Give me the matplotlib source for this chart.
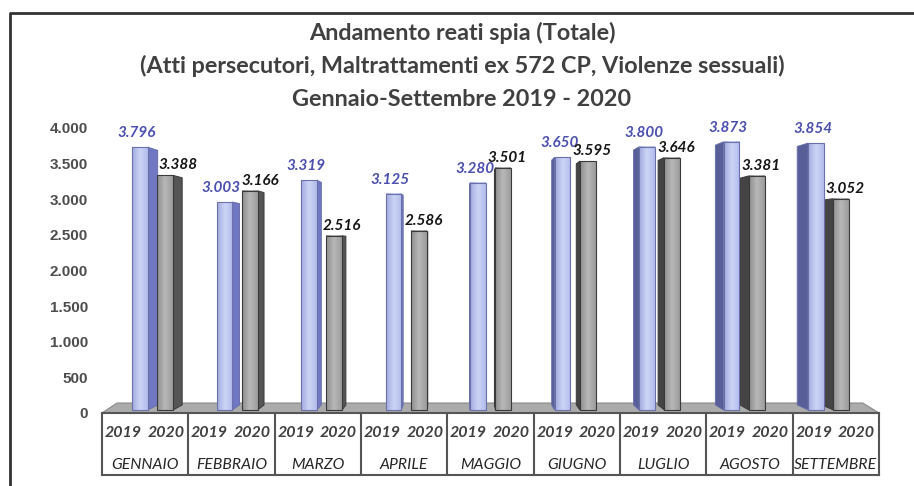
import matplotlib
matplotlib.use("Agg")
import matplotlib.pyplot as plt
import numpy as np
from matplotlib.patches import Polygon, Rectangle
from matplotlib.lines import Line2D
from matplotlib.colors import LinearSegmentedColormap

# ---------------- data ----------------
months = ["GENNAIO", "FEBBRAIO", "MARZO", "APRILE", "MAGGIO",
          "GIUGNO", "LUGLIO", "AGOSTO", "SETTEMBRE"]
years = ["2019", "2020"]
values_2019 = [3796, 3003, 3319, 3125, 3280, 3650, 3800, 3873, 3854]
values_2020 = [3388, 3166, 2516, 2586, 3501, 3595, 3646, 3381, 3052]
y_ticks = [0, 500, 1000, 1500, 2000, 2500, 3000, 3500, 4000]
title_lines = ["Andamento reati spia (Totale)",
               "(Atti persecutori, Maltrattamenti ex 572 CP, Violenze sessuali)",
               "Gennaio-Settembre 2019 - 2020"]

def fmt(v):
    return f"{v:,}".replace(",", ".")

# ---------------- figure ----------------
W, H = 914, 486
fig = plt.figure(figsize=(W / 100, H / 100), dpi=100)
fig.patch.set_facecolor("white")

def px_rect(x0, y0, x1, y1):
    return [x0 / W, 1 - y1 / H, (x1 - x0) / W, (y1 - y0) / H]

FONT = "Lato"

# wall axis with tick labels
ax_wall = fig.add_axes(px_rect(102, 128, 880, 413), zorder=0)
ax_wall.set_ylim(0, 4000)
ax_wall.set_xlim(0, 9)
ax_wall.set_yticks(y_ticks)
ax_wall.set_yticklabels([fmt(t) for t in y_ticks], fontweight="bold",
                        family="Liberation Sans", fontsize=11, color="#4d4d4d")
ax_wall.set_xticks([])
ax_wall.tick_params(axis="y", length=0, pad=10)
for s in ax_wall.spines.values():
    s.set_visible(False)
ax_wall.patch.set_alpha(0)

# bars axis
ax = fig.add_axes(px_rect(102, 133, 880, 410), zorder=1)
ax.axis("off")

# perspective parameters (in category units)
cx, sc = 4.29, 0.9776
a, d, w = 0.257, 0.30, 0.185
vx, vy, k = 4.19, 2310.0, 0.0315
PXU = 86.44  # pixels per category unit

floor = Polygon([(0, -43), (8.99, -43), (8.80, 101), (0.174, 101)],
                closed=True, facecolor="#ababab", edgecolor="#8a8a8a",
                lw=0.8, zorder=1, clip_on=False)
ax.add_patch(floor)

cm19 = LinearSegmentedColormap.from_list("c19", ["#a2aae0", "#ccd5f5", "#b3bcec"])
cm20 = LinearSegmentedColormap.from_list("c20", ["#8e8e8e", "#b8b8b8", "#9c9c9c"])
grad = np.linspace(0, 1, 64).reshape(1, -1)

series = [
    (values_2019, cm19, "#7078c4", "#575e98", "#6a70a8", "#4b4fae", 14),
    (values_2020, cm20, "#555555", "#444444", "#3a3a3a", "#151515", 10),
]

for s, (vals, cmap, side_r, side_l, edge, lab_col, yoff) in enumerate(series):
    for i, v in enumerate(vals):
        x0 = cx + (i + a + s * d - cx) * sc
        x1 = x0 + w * sc
        side_px = 0.0
        if x1 < vx:
            xe, side_col = x1, side_r
        elif x0 > vx:
            xe, side_col = x0, side_l
        else:
            xe = None
        if xe is not None:
            xb = xe + k * (vx - xe)
            side_px = (xb - xe) * PXU
            poly = Polygon([(xe, 0), (xb, k * vy), (xb, v + k * (vy - v)), (xe, v)],
                           closed=True, facecolor=side_col, edgecolor=edge,
                           lw=0.7, zorder=2, clip_on=False)
            ax.add_patch(poly)
        ax.imshow(grad, extent=(x0, x1, 0, v), aspect="auto", cmap=cmap,
                  zorder=3, interpolation="bilinear")
        ax.add_patch(Rectangle((x0, 0), x1 - x0, v, facecolor="none",
                               edgecolor=edge, lw=0.8, zorder=4, clip_on=False))
        if s == 0:
            dx_px = -3
        else:
            dx_px = 4 + max(side_px, 0)
        ax.annotate(fmt(v), xy=((x0 + x1) / 2, v),
                    xytext=(dx_px * 0.72, yoff * 0.72),
                    textcoords="offset points", ha="center", va="center",
                    fontsize=11, fontweight="bold", fontstyle="italic",
                    color=lab_col, family=FONT, zorder=6,
                    annotation_clip=False)

ax.set_xlim(0, 9)
ax.set_ylim(0, 4000)

# table below
ax_t = fig.add_axes(px_rect(102, 413, 879, 475), zorder=2)
ax_t.set_xlim(0, 9)
ax_t.set_ylim(1, 0)
ax_t.set_xticks([])
ax_t.set_yticks([])
for sp in ax_t.spines.values():
    sp.set_color("#555555")
    sp.set_linewidth(1.5)
ax_t.patch.set_alpha(0)
for i in range(1, 9):
    ax_t.axvline(i, color="#555555", lw=1.5)
for i, m in enumerate(months):
    ax_t.text(i + 0.245, 0.32, years[0], ha="center", va="center",
              fontsize=11.5, fontweight="bold", fontstyle="italic",
              color="#404040", family=FONT)
    ax_t.text(i + 0.74, 0.32, years[1], ha="center", va="center",
              fontsize=11.5, fontweight="bold", fontstyle="italic",
              color="#404040", family=FONT)
    ax_t.text(i + 0.5, 0.84, m, ha="center", va="center",
              fontsize=11.3, fontstyle="italic",
              color="#262626", family=FONT)

# titles
for j, t in enumerate(title_lines):
    fig.text(462 / W, 1 - (33 + 33 * j) / H, t, ha="center", va="center",
             fontsize=16.8, fontweight="bold", color="#404040", family=FONT)

# outer border
fig.add_artist(Line2D([10 / W, 10 / W, 1.0], [0, 1 - 13 / H, 1 - 13 / H],
                      color="#333333", lw=2, transform=fig.transFigure))

fig.savefig("out.png", dpi=100, facecolor="white")
